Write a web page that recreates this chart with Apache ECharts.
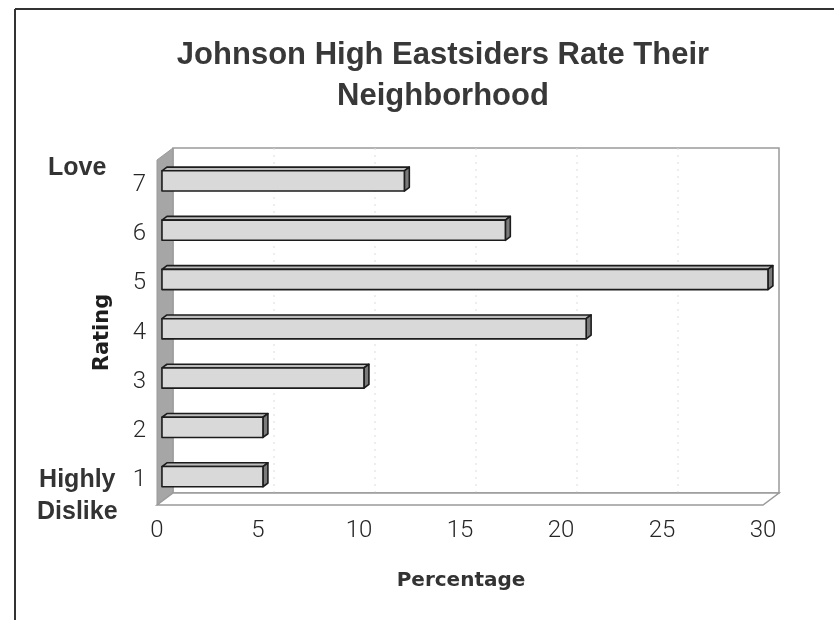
<!DOCTYPE html>
<html>
<head>
<meta charset="utf-8">
<script src="https://cdn.jsdelivr.net/npm/echarts@6/dist/echarts.min.js"></script>
<style>
  html, body { margin: 0; padding: 0; background: #fff; }
  #chart { width: 834px; height: 620px; }
</style>
</head>
<body>
<div id="chart"></div>
<script>
// Rating scale (1 = highly dislike, 7 = love)
const ratings = ['1', '2', '3', '4', '5', '6', '7'];
// Share of students giving each rating, in percent
const percentages = [5, 5, 10, 21, 30, 17, 12];
// Value axis range
const axisMin = 0;
const axisMax = 30;
const axisStep = 5;

// Perspective offset of the back plane relative to the front plane (px)
const DEPTH_X = 16;
const DEPTH_Y = -12;
// Bars sit between these fractions of the depth
const BAR_D0 = 0.31;
const BAR_D1 = 0.62;
const BAR_FRAC = 0.41;

const chart = echarts.init(document.getElementById('chart'), null, { renderer: 'canvas' });

function poly(points, style, z2) {
  return { type: 'polygon', shape: { points: points }, style: style, z2: z2 || 0 };
}

// Back wall, side wall and floor of the 3D frame
function renderWalls(params, api) {
  const cs = params.coordSys;
  const x0 = cs.x, x1 = cs.x + cs.width;
  const yT = cs.y, yB = cs.y + cs.height;
  const children = [];
  // back wall
  children.push({
    type: 'rect',
    shape: { x: x0 + DEPTH_X, y: yT + DEPTH_Y, width: cs.width, height: cs.height },
    style: { fill: '#ffffff', stroke: '#9a9a9a', lineWidth: 1.5 }
  });
  // faint grid lines on the back wall
  for (let v = axisMin + axisStep; v < axisMax; v += axisStep) {
    const px = api.coord([v, 0])[0] + DEPTH_X;
    children.push({
      type: 'line',
      shape: { x1: px, y1: yT + DEPTH_Y, x2: px, y2: yB + DEPTH_Y },
      style: { stroke: '#dcdcdc', lineWidth: 1, lineDash: [2, 5] }
    });
  }
  // left side wall
  children.push(poly(
    [[x0, yT], [x0 + DEPTH_X, yT + DEPTH_Y], [x0 + DEPTH_X, yB + DEPTH_Y], [x0, yB]],
    { fill: '#a6a6a6', stroke: '#999999', lineWidth: 1 }
  ));
  // floor
  children.push(poly(
    [[x0, yB], [x0 + DEPTH_X, yB + DEPTH_Y], [x1 + DEPTH_X, yB + DEPTH_Y], [x1, yB]],
    { fill: '#ffffff', stroke: '#9a9a9a', lineWidth: 1.5 }
  ));
  return { type: 'group', children: children };
}

// One 3D bar: front face, top face and end face
function renderBar(params, api) {
  const val = api.value(0);
  const cat = api.value(1);
  const start = api.coord([axisMin, cat]);
  const end = api.coord([val, cat]);
  const band = api.size([0, 1])[1];
  const h = band * BAR_FRAC;
  const fx = DEPTH_X * BAR_D0, fy = DEPTH_Y * BAR_D0;
  const dx = DEPTH_X * (BAR_D1 - BAR_D0), dy = DEPTH_Y * (BAR_D1 - BAR_D0);
  const xa = start[0] + fx, xb = end[0] + fx;
  const yt = start[1] + fy - h / 2, yb = start[1] + fy + h / 2;
  const stroke = { stroke: '#1c1c1c', lineWidth: 1.6, lineJoin: 'round' };
  return {
    type: 'group',
    children: [
      poly([[xa, yt], [xa + dx, yt + dy], [xb + dx, yt + dy], [xb, yt]],
        Object.assign({ fill: '#bdbdbd' }, stroke), 1),
      poly([[xb, yt], [xb + dx, yt + dy], [xb + dx, yb + dy], [xb, yb]],
        Object.assign({ fill: '#7a7a7a' }, stroke), 1),
      poly([[xa, yt], [xb, yt], [xb, yb], [xa, yb]],
        Object.assign({ fill: '#d9d9d9' }, stroke), 2)
    ]
  };
}

const barData = percentages.map((v, i) => [v, i]);

const option = {
  backgroundColor: '#ffffff',
  animation: false,
  title: {
    text: 'Johnson High Eastsiders Rate Their\nNeighborhood',
    left: 438,
    top: 30,
    textAlign: 'center',
    textStyle: {
      fontFamily: 'Liberation Sans',
      fontWeight: 'bold',
      fontSize: 31,
      lineHeight: 41,
      color: '#383838'
    }
  },
  grid: { left: 157, right: 71, top: 160, bottom: 115, containLabel: false },
  xAxis: {
    type: 'value',
    min: axisMin,
    max: axisMax,
    interval: axisStep,
    axisLine: { show: false },
    axisTick: { show: false },
    splitLine: { show: false },
    axisLabel: {
      margin: 14,
      fontFamily: 'Roboto',
      fontWeight: 300,
      fontSize: 24,
      color: '#262626'
    },
    name: 'Percentage',
    nameLocation: 'middle',
    nameGap: 66,
    nameTextStyle: {
      fontFamily: 'DejaVu Sans',
      fontWeight: 'bold',
      fontSize: 20,
      color: '#333333',
      padding: [0, 0, 0, 2]
    }
  },
  yAxis: {
    type: 'category',
    data: ratings,
    axisLine: { show: false },
    axisTick: { show: false },
    axisLabel: {
      margin: 11,
      fontFamily: 'Roboto',
      fontWeight: 300,
      fontSize: 24,
      color: '#262626'
    },
    name: 'Rating',
    nameLocation: 'middle',
    nameRotate: 90,
    nameGap: 44,
    nameTextStyle: {
      fontFamily: 'DejaVu Sans',
      fontWeight: 'bold',
      fontSize: 21,
      color: '#1e1e1e'
    }
  },
  graphic: [
    {
      type: 'text', left: 48, top: 156,
      style: { text: 'Love', font: 'bold 25px "Liberation Sans"', fill: '#333333' }
    },
    {
      type: 'text', left: 37, top: 464,
      style: {
        text: 'Highly\nDislike', font: 'bold 25px "Liberation Sans"', fill: '#333333',
        textAlign: 'center', lineHeight: 32
      }
    },
    {
      type: 'line', shape: { x1: 15, y1: 9, x2: 834, y2: 9 },
      style: { stroke: '#333333', lineWidth: 2 }
    },
    {
      type: 'line', shape: { x1: 15, y1: 9, x2: 15, y2: 620 },
      style: { stroke: '#333333', lineWidth: 2 }
    }
  ],
  series: [
    {
      type: 'custom',
      z: 1,
      silent: true,
      renderItem: renderWalls,
      data: [[0, 0]]
    },
    {
      type: 'custom',
      z: 2,
      renderItem: renderBar,
      encode: { x: 0, y: 1 },
      data: barData
    }
  ]
};

chart.setOption(option);
</script>
</body>
</html>
